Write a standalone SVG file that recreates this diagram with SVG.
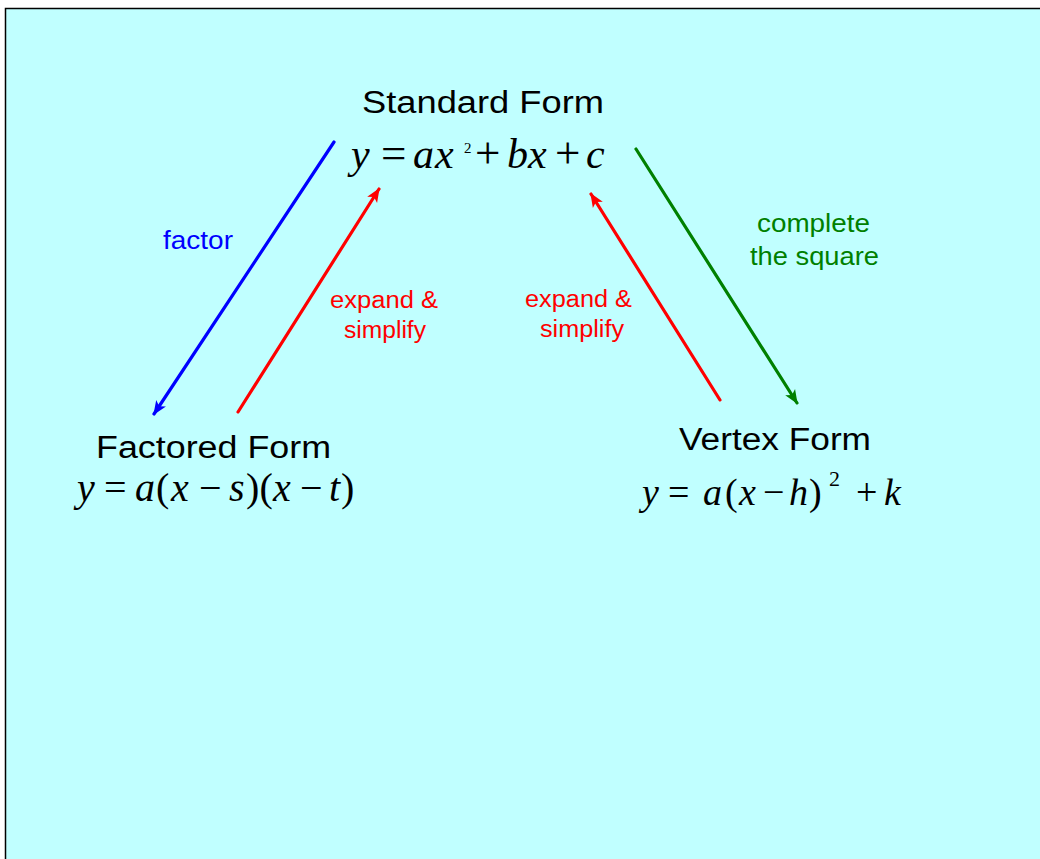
<svg xmlns="http://www.w3.org/2000/svg" width="1040" height="859" viewBox="0 0 1040 859">
<style>
.lbl{font-family:"Liberation Sans",Arial,sans-serif;text-anchor:middle}
.title{font-size:31px;fill:#000}
.small{font-size:23px}
.mid{font-size:25px}
.math{font-family:"Liberation Serif","Times New Roman",serif;fill:#000}
.i{font-style:italic}
</style>
<defs>
<marker id="ahB" markerUnits="userSpaceOnUse" markerWidth="14" markerHeight="12" refX="11" refY="5" orient="auto" viewBox="0 0 12 10"><path d="M0,0 L12,5 L0,10 L3,5 Z" fill="#0000ff"/></marker>
<marker id="ahR" markerUnits="userSpaceOnUse" markerWidth="14" markerHeight="12" refX="11" refY="5" orient="auto" viewBox="0 0 12 10"><path d="M0,0 L12,5 L0,10 L3,5 Z" fill="#ff0000"/></marker>
<marker id="ahG" markerUnits="userSpaceOnUse" markerWidth="14" markerHeight="12" refX="11" refY="5" orient="auto" viewBox="0 0 12 10"><path d="M0,0 L12,5 L0,10 L3,5 Z" fill="#008000"/></marker>
</defs>
<rect x="0" y="0" width="1040" height="859" fill="#ffffff"/>
<rect x="5.5" y="8.5" width="1040" height="860" fill="#c0ffff" stroke="#000" stroke-width="1.5"/>

<g id="connectors" stroke-width="3.2" stroke-linecap="round" fill="none">
<line id="e-factor" x1="334" y1="142" x2="154" y2="414" stroke="#0000ff" marker-end="url(#ahB)"/>
<line id="e-expand1" x1="238" y1="412" x2="379" y2="189" stroke="#ff0000" marker-end="url(#ahR)"/>
<line id="e-expand2" x1="720" y1="400" x2="591" y2="194" stroke="#ff0000" marker-end="url(#ahR)"/>
<line id="e-complete" x1="636" y1="149" x2="797" y2="403" stroke="#008000" marker-end="url(#ahG)"/>
</g>

<g id="edge-labels" class="lbl">
<text x="198" y="249" class="mid" fill="#0000ff" textLength="70" lengthAdjust="spacingAndGlyphs">factor</text>
<text x="384" y="308" class="small" fill="#ff0000" textLength="108" lengthAdjust="spacingAndGlyphs">expand &amp;</text>
<text x="385" y="338" class="small" fill="#ff0000" textLength="82" lengthAdjust="spacingAndGlyphs">simplify</text>
<text x="578.5" y="307" class="small" fill="#ff0000" textLength="107" lengthAdjust="spacingAndGlyphs">expand &amp;</text>
<text x="582" y="337" class="small" fill="#ff0000" textLength="84" lengthAdjust="spacingAndGlyphs">simplify</text>
<text x="813.5" y="232" class="mid" fill="#008000" textLength="113" lengthAdjust="spacingAndGlyphs">complete</text>
<text x="814.5" y="265" class="mid" fill="#008000" textLength="129" lengthAdjust="spacingAndGlyphs">the square</text>
</g>

<g id="standard">
<text class="lbl title" x="483" y="113" textLength="242" lengthAdjust="spacingAndGlyphs">Standard Form</text>
<text class="math" y="168" font-size="42"><tspan class="i" x="351">y</tspan><tspan x="381" font-size="45">=</tspan><tspan class="i" x="413">a</tspan><tspan class="i" x="435">x</tspan><tspan x="464" y="153" font-size="15">2</tspan><tspan x="475" y="168" font-size="45">+</tspan><tspan class="i" x="507">b</tspan><tspan class="i" x="528">x</tspan><tspan x="555" font-size="45">+</tspan><tspan class="i" x="586">c</tspan></text>
</g>

<g id="factored">
<text class="lbl title" x="213.5" y="458" textLength="235" lengthAdjust="spacingAndGlyphs">Factored Form</text>
<text class="math" y="501" font-size="40"><tspan class="i" x="77">y</tspan><tspan x="104">=</tspan><tspan class="i" x="135">a</tspan><tspan x="156">(</tspan><tspan class="i" x="171">x</tspan><tspan x="199">−</tspan><tspan class="i" x="229">s</tspan><tspan x="246">)</tspan><tspan x="259.5">(</tspan><tspan class="i" x="273">x</tspan><tspan x="300">−</tspan><tspan class="i" x="329">t</tspan><tspan x="341">)</tspan></text>
</g>

<g id="vertex">
<text class="lbl title" x="775" y="450" textLength="192" lengthAdjust="spacingAndGlyphs">Vertex Form</text>
<text class="math" y="505" font-size="38"><tspan class="i" x="642">y</tspan><tspan x="668">=</tspan><tspan class="i" x="703">a</tspan><tspan x="725">(</tspan><tspan class="i" x="739">x</tspan><tspan x="763">−</tspan><tspan class="i" x="789">h</tspan><tspan x="809">)</tspan><tspan x="829" y="486" font-size="22">2</tspan><tspan x="856" y="505">+</tspan><tspan class="i" x="884">k</tspan></text>
</g>
</svg>
